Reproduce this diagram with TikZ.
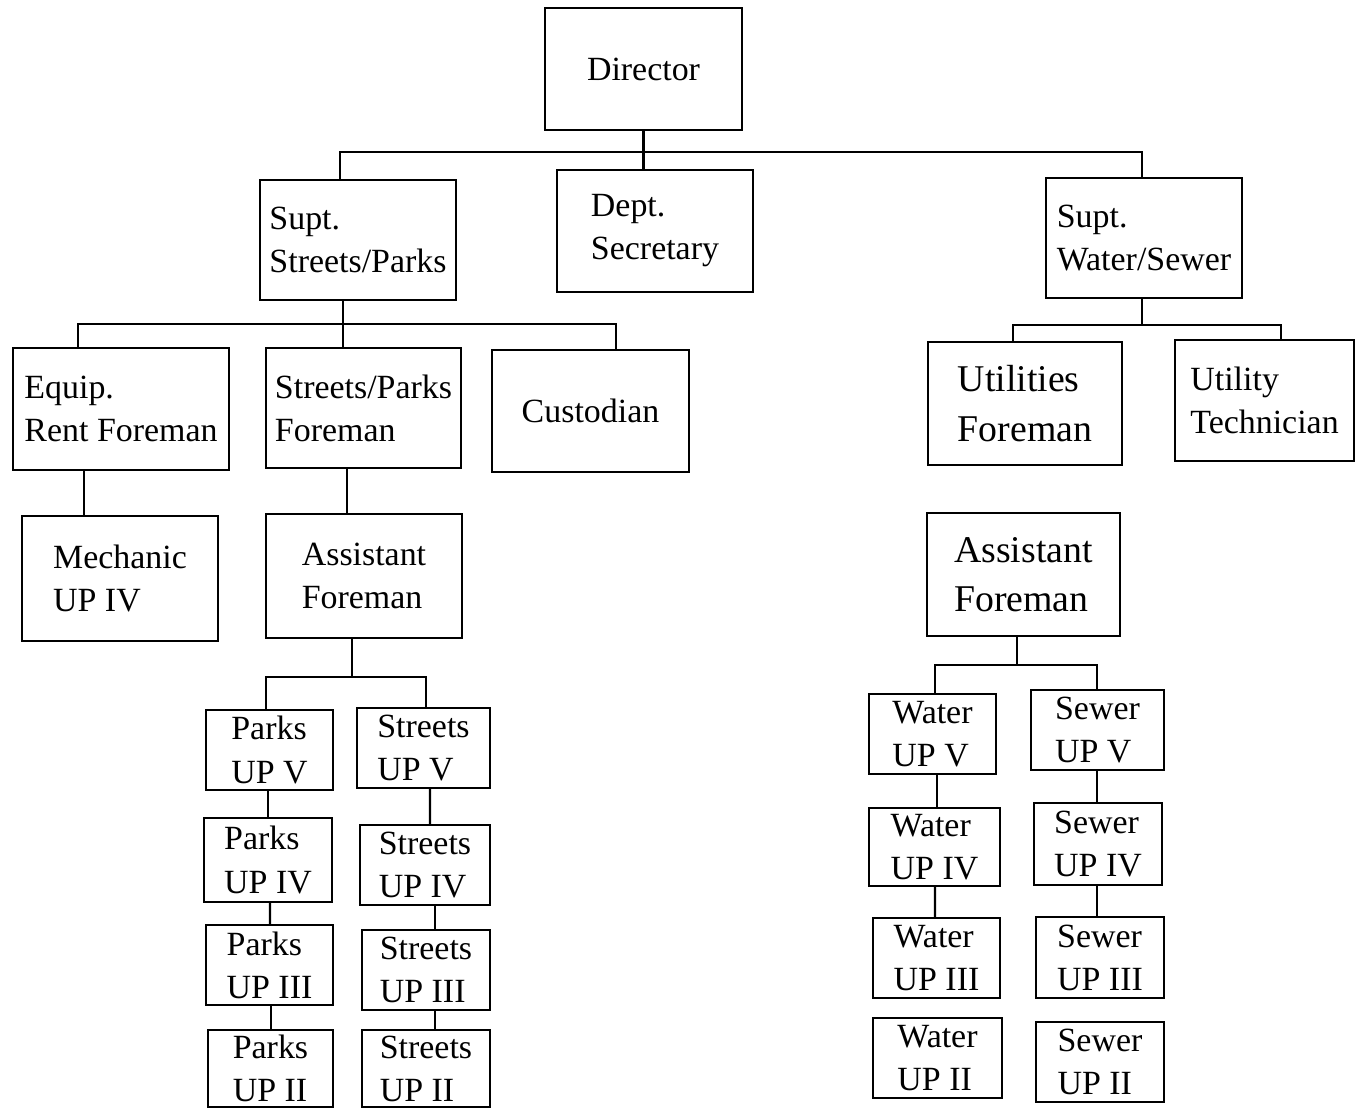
\documentclass[tikz,border=0pt]{standalone}
\usepackage{fontspec}
\setmainfont{Liberation Serif}
\usetikzlibrary{calc}
\newcommand\txtn{\fontsize{19.3}{24.5}\selectfont}
\newcommand\txtb{\fontsize{21.5}{28}\selectfont}
\tikzset{
  box/.style={draw, line width=1.1pt, inner sep=1pt, align=left, font=\txtn},
  big/.style={font=\txtb},
  wh/.style 2 args={minimum width=#1*0.02cm, minimum height=#2*0.02cm},
  conn/.style={line width=1.3pt}}
\begin{document}
\begin{tikzpicture}[x=0.02cm,y=-0.02cm]
\useasboundingbox[fill=white] (0,0) rectangle (1356,1109);
% top level
\node[box, wh={197}{122}] (dir) at (643.5,69) {Director};
\node[box, wh={196}{120}] (ssp) at (358,240) {Supt.\\Streets/Parks};
\node[box, wh={196}{122}] (sec) at (655,231) {Dept.\\Secretary};
\node[box, wh={196}{120}] (ws) at (1144,238) {Supt.\\Water/Sewer};
% second level
\node[box, wh={216}{122}] (equip) at (121,409) {Equip.\\Rent Foreman};
\node[box, wh={195}{120}] (spf) at (363.5,408) {Streets/Parks\\Foreman};
\node[box, wh={197}{122}] (cust) at (590.5,411) {Custodian};
\node[box, big, wh={194}{123}] (uf) at (1025,403.5) {Utilities\\Foreman};
\node[box, wh={179}{121}] (ut) at (1264.5,400.5) {Utility\\Technician};
% third level
\node[box, wh={196}{125}] (mech) at (120,578.5) {Mechanic\\UP IV};
\node[box, wh={196}{124}] (asl) at (364,576) {Assistant\\Foreman};
\node[box, big, wh={193}{123}] (asr) at (1023.5,574.5) {Assistant\\Foreman};
% parks
\node[box, wh={127}{80}] (pv) at (269.5,750) {Parks\\UP V};
\node[box, wh={128}{84}] (piv) at (268,860) {Parks\\UP IV};
\node[box, wh={127}{80}] (piii) at (269.5,965) {Parks\\UP III};
\node[box, wh={125}{77}] (pii) at (270.5,1068.5) {Parks\\UP II};
% streets
\node[box, wh={133}{80}] (sv) at (423.5,748) {Streets\\UP V};
\node[box, wh={130}{80}] (siv) at (425,865) {Streets\\UP IV};
\node[box, wh={128}{80}] (siii) at (426,970) {Streets\\UP III};
\node[box, wh={128}{77}] (sii) at (426,1068.5) {Streets\\UP II};
% water
\node[box, wh={127}{80}] (wv) at (932.5,734) {Water\\UP V};
\node[box, wh={131}{78}] (wiv) at (934.5,847) {Water\\UP IV};
\node[box, wh={127}{80}] (wiii) at (936.5,958) {Water\\UP III};
\node[box, wh={129}{80}] (wii) at (937.5,1058) {Water\\UP II};
% sewer
\node[box, wh={133}{80}] (sewv) at (1097.5,730) {Sewer\\UP V};
\node[box, wh={128}{82}] (seiv) at (1098,844) {Sewer\\UP IV};
\node[box, wh={128}{81}] (seiii) at (1100,957.5) {Sewer\\UP III};
\node[box, wh={128}{80}] (seii) at (1100,1062) {Sewer\\UP II};
% connectors
\coordinate (dirbus) at (643,152);
\draw[conn] (dir.south) -- (dir.south |- sec.north);
\draw[conn] ($(ssp.north)+(-18,0)$) |- (dirbus) -| ($(ws.north)+(-2,0)$);
\coordinate (sspbus) at (343,324);
\draw[conn] ($(ssp.south)+(-15,0)$) -- ($(spf.north)+(-20.5,0)$);
\draw[conn] ($(equip.north)+(-43,0)$) |- (sspbus) -| ($(cust.north)+(25.5,0)$);
\coordinate (wsbus) at (1142,325);
\draw[conn] ($(ws.south)+(-2,0)$) -- (wsbus);
\draw[conn] ($(uf.north)+(-12,0)$) |- (wsbus) -| ($(ut.north)+(16.5,0)$);
\draw[conn] ($(equip.south)+(-37,0)$) -- ($(mech.north)+(-36,0)$);
\draw[conn] ($(spf.south)+(-16.5,0)$) -- ($(asl.north)+(-17,0)$);
\coordinate (aslbus) at (352,677);
\draw[conn] ($(asl.south)+(-12,0)$) -- (aslbus);
\draw[conn] ($(pv.north)+(-3.5,0)$) |- (aslbus) -| ($(sv.north)+(2.5,0)$);
\draw[conn] ($(pv.south)+(-1.5,0)$) -- (piv.north);
\draw[conn] ($(piv.south)+(2,0)$) -- ($(piii.north)+(0.5,0)$);
\draw[conn] ($(piii.south)+(1.5,0)$) -- ($(pii.north)+(0.5,0)$);
\draw[conn] ($(sv.south)+(6.5,0)$) -- ($(siv.north)+(5,0)$);
\draw[conn] ($(siv.south)+(10,0)$) -- ($(siii.north)+(9,0)$);
\draw[conn] ($(siii.south)+(9,0)$) -- ($(sii.north)+(9,0)$);
\coordinate (asrbus) at (1017,665);
\draw[conn] ($(asr.south)+(-6.5,0)$) -- (asrbus);
\draw[conn] ($(wv.north)+(2.5,0)$) |- (asrbus) -| ($(sewv.north)+(-0.5,0)$);
\draw[conn] ($(wv.south)+(4.5,0)$) -- ($(wiv.north)+(2.5,0)$);
\draw[conn] ($(wiv.south)+(0.5,0)$) -- ($(wiii.north)+(-1.5,0)$);
\draw[conn] ($(sewv.south)+(-0.5,0)$) -- ($(seiv.north)+(-1,0)$);
\draw[conn] ($(seiv.south)+(-1,0)$) -- ($(seiii.north)+(-3,0)$);
\end{tikzpicture}
\end{document}
